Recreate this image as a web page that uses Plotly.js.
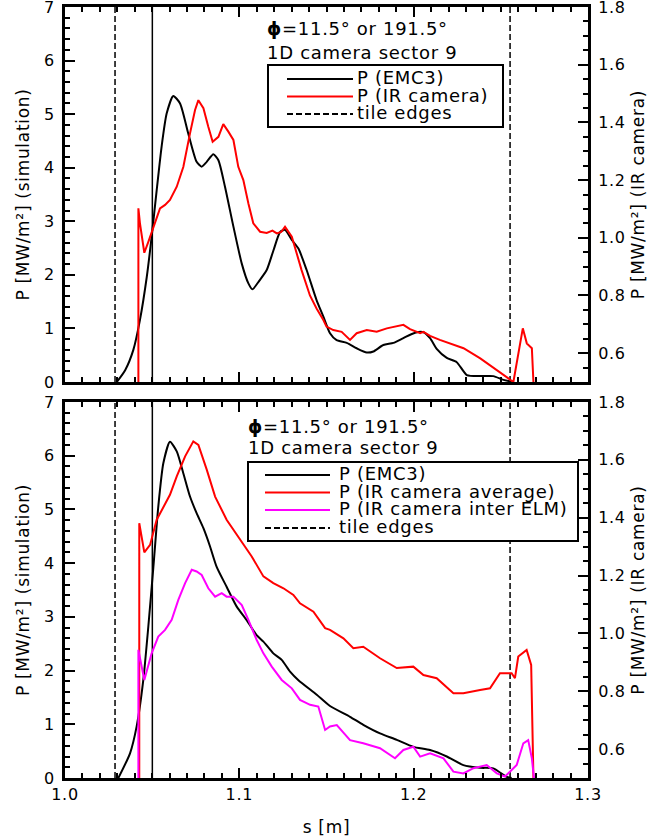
<!DOCTYPE html>
<html><head><meta charset="utf-8">
<script src="https://cdn.plot.ly/plotly-3.0.1.min.js"></script>
<style>
html,body{margin:0;padding:0;background:#fff;}
#wrap{position:relative;width:659px;height:837px;}
#chart{position:absolute;left:0;top:0;width:659px;height:837px;}
#overlay{position:absolute;left:0;top:0;pointer-events:none;}
#state{position:absolute;left:0;top:0;width:1px;height:1px;overflow:hidden;color:#fff;font-size:1px;}
svg text{letter-spacing:0.7px;}
</style></head><body><div id="wrap"><div id="chart"></div>
<svg id="overlay" width="659" height="837" xmlns="http://www.w3.org/2000/svg"></svg><div id="state"></div></div>
<script>
// ---------- data (s in m, P in MW/m^2) ----------
// top panel: EMC3 simulation (left axis)
const sTopEmc = [1.0297,1.0345,1.0392,1.043,1.0469,1.0497,1.0526,1.0554,1.0583,1.0621,1.066,1.0707,1.0755,1.0784,1.0813,1.0851,1.088,1.0918,1.0966,1.1014,1.1052,1.1075,1.111,1.1157,1.1196,1.1234,1.1262,1.1301,1.1339,1.1386,1.1443,1.1482,1.152,1.1558,1.1616,1.1673,1.1731,1.1769,1.1826,1.1884,1.1941,1.2008,1.2056,1.2094,1.2132,1.219,1.2247,1.2305,1.2381,1.2457,1.2515,1.2572];
const pTopEmc = [0,0.22,0.6,1.16,1.96,2.71,3.58,4.39,5.01,5.34,5.2,4.64,4.11,4.02,4.11,4.25,4.14,3.64,2.9,2.21,1.84,1.73,1.87,2.09,2.46,2.8,2.84,2.65,2.49,2.09,1.53,1.22,0.91,0.78,0.73,0.63,0.55,0.57,0.69,0.73,0.82,0.92,0.93,0.82,0.62,0.45,0.37,0.13,0.11,0.11,0.04,0];
// top panel: IR camera (right axis)
const sTopIr = [1.0421,1.0421,1.043,1.0455,1.0478,1.0516,1.0545,1.0574,1.0602,1.0641,1.0679,1.0717,1.0746,1.0765,1.0794,1.0822,1.0847,1.088,1.0908,1.0937,1.0966,1.0994,1.1023,1.1052,1.108,1.1119,1.1157,1.119,1.1215,1.124,1.1262,1.1301,1.1339,1.1357,1.1405,1.1443,1.1482,1.15,1.1539,1.1587,1.1635,1.1673,1.1731,1.1788,1.1846,1.1903,1.1941,1.1979,1.2037,1.2056,1.2094,1.215,1.2228,1.2286,1.2382,1.2477,1.2572,1.2626,1.2649,1.2678,1.2687];
const pTopIr = [0.5,1.102,1.05,0.948,0.986,1.05,1.102,1.114,1.131,1.177,1.246,1.362,1.443,1.477,1.449,1.385,1.333,1.35,1.394,1.368,1.339,1.246,1.2,1.119,1.05,1.021,1.017,1.025,1.015,1.02,1.038,1.004,0.923,0.888,0.8,0.755,0.715,0.692,0.68,0.674,0.646,0.669,0.68,0.674,0.686,0.692,0.698,0.683,0.669,0.674,0.66,0.646,0.63,0.617,0.582,0.542,0.5,0.686,0.634,0.617,0.5];
// bottom panel: EMC3 simulation (left axis)
const sBotEmc = [1.0306,1.0373,1.0411,1.0449,1.0478,1.0507,1.0535,1.0564,1.0602,1.0641,1.0679,1.0717,1.0755,1.0794,1.0832,1.087,1.0927,1.0985,1.1042,1.1099,1.1138,1.1195,1.1243,1.1291,1.1339,1.1444,1.152,1.1635,1.1711,1.1807,1.1903,1.1998,1.2094,1.219,1.2285,1.2381,1.2457,1.2534,1.2562];
const pBotEmc = [0,0.46,0.96,1.82,2.82,3.93,5.05,5.86,6.26,6.08,5.67,5.24,4.93,4.65,4.31,3.93,3.56,3.19,2.94,2.66,2.54,2.32,2.2,1.98,1.82,1.55,1.34,1.14,0.99,0.83,0.71,0.58,0.52,0.4,0.24,0.19,0.18,0.02,0];
// bottom panel: IR camera average (right axis)
const sBotIrAvg = [1.0426,1.0426,1.0455,1.0488,1.0526,1.0574,1.0602,1.0641,1.0689,1.0736,1.0765,1.0813,1.0861,1.0927,1.1004,1.1071,1.1138,1.1195,1.1253,1.131,1.1348,1.1425,1.1492,1.152,1.1597,1.1654,1.1711,1.1807,1.1903,1.1998,1.2056,1.2132,1.2228,1.2285,1.2381,1.2438,1.2495,1.2562,1.2581,1.26,1.2648,1.2674,1.2687];
const pBotIrAvg = [0.5,1.381,1.28,1.306,1.393,1.445,1.479,1.543,1.612,1.664,1.652,1.566,1.473,1.393,1.324,1.266,1.197,1.174,1.156,1.133,1.104,1.075,1.018,1.012,0.983,0.949,0.954,0.914,0.88,0.885,0.856,0.845,0.793,0.793,0.804,0.81,0.862,0.862,0.845,0.92,0.943,0.891,0.5];
// bottom panel: IR camera inter ELM (right axis)
const sBotIrElm = [1.0421,1.0421,1.0455,1.0497,1.0535,1.0574,1.0612,1.065,1.0689,1.0727,1.0755,1.0784,1.0822,1.0861,1.0899,1.0927,1.0966,1.1014,1.1052,1.1099,1.1138,1.1186,1.1243,1.1301,1.1348,1.1406,1.1453,1.1492,1.152,1.1559,1.1635,1.1711,1.1807,1.1893,1.1941,1.1998,1.2037,1.2094,1.2171,1.2228,1.2285,1.2343,1.2419,1.2477,1.2524,1.2562,1.2591,1.2629,1.2657,1.2678,1.269];
const pBotIrElm = [0.5,0.943,0.839,0.931,0.989,1.012,1.047,1.116,1.174,1.22,1.214,1.202,1.156,1.127,1.139,1.127,1.127,1.098,1.047,0.978,0.931,0.885,0.839,0.81,0.77,0.753,0.747,0.666,0.678,0.683,0.631,0.62,0.603,0.568,0.597,0.608,0.574,0.585,0.568,0.522,0.516,0.534,0.545,0.516,0.505,0.528,0.545,0.62,0.631,0.568,0.5];
// vertical markers
const tileEdges = [1.0287, 1.2553];
const solidMark = [1.0501];
// text
const infoSymbol = 'ϕ';
const infoLine1 = '=11.5° or 191.5°';
const infoLine2 = '1D camera sector 9';
const legTopLabels = ['P (EMC3)', 'P (IR camera)', 'tile edges'];
const legTopColors = ['#000000', '#ff0000', '#000000'];
const legTopDash = ['solid', 'solid', 'dash'];
const legBotLabels = ['P (EMC3)', 'P (IR camera average)', 'P (IR camera inter ELM)', 'tile edges'];
const legBotColors = ['#000000', '#ff0000', '#ff00ff', '#000000'];
const legBotDash = ['solid', 'solid', 'solid', 'dash'];
const yTitleLeft = 'P [MW/m²] (simulation)';
const yTitleRight = 'P [MW/m²] (IR camera)';
const xTitle = 's [m]';

// ---------- geometry ----------
const L = 65, R = 588, T = 7, B = 778;
const py = y => (B - y) / (B - T);
const DASH = '6px,3px';

function vlineTrace(xs, yaxis, dash, w) {
  const x = [], y = [];
  xs.forEach((v, i) => { if (i) { x.push(null); y.push(null); } x.push(v, v); y.push(0, 7); });
  return {x, y, xaxis: yaxis === 'y' ? 'x' : 'x2', yaxis, mode: 'lines',
    line: {color: '#000', width: w, dash}, showlegend: false, hoverinfo: 'skip'};
}

const traces = [
  vlineTrace(tileEdges, 'y', DASH, 1.5),
  vlineTrace(solidMark, 'y', 'solid', 1.5),
  {x: sTopEmc, y: pTopEmc, xaxis: 'x', yaxis: 'y', mode: 'lines', line: {color: '#000', width: 2, shape: 'spline', smoothing: 0.6}, showlegend: false},
  {x: sTopIr, y: pTopIr, xaxis: 'x', yaxis: 'y2', mode: 'lines', line: {color: '#ff0000', width: 2}, showlegend: false},
  vlineTrace(tileEdges, 'y3', DASH, 1.5),
  vlineTrace(solidMark, 'y3', 'solid', 1.5),
  {x: sBotEmc, y: pBotEmc, xaxis: 'x2', yaxis: 'y3', mode: 'lines', line: {color: '#000', width: 2, shape: 'spline', smoothing: 0.6}, showlegend: false},
  {x: sBotIrAvg, y: pBotIrAvg, xaxis: 'x2', yaxis: 'y4', mode: 'lines', line: {color: '#ff0000', width: 2}, showlegend: false},
  {x: sBotIrElm, y: pBotIrElm, xaxis: 'x2', yaxis: 'y4', mode: 'lines', line: {color: '#ff00ff', width: 2}, showlegend: false}
];

const base = {showline: true, linewidth: 3, linecolor: '#000', ticks: 'inside', tickcolor: '#000',
  ticklabeloverflow: 'allow', showgrid: false, zeroline: false, tickfont: {size: 16, color: '#000'}, ticklen: 10, tickwidth: 2};
const xBase = Object.assign({}, base, {range: [1.0, 1.3], tick0: 1.0, dtick: 0.1, tickformat: '.1f', mirror: 'ticks',
  minor: {tick0: 1.0, dtick: 0.01, ticks: 'inside', ticklen: 5, tickwidth: 1.5, tickcolor: '#000'}});
const yLeft = Object.assign({}, base, {range: [0, 7], tick0: 0, dtick: 1, ticklabelstandoff: 4,
  minor: {dtick: 0.2, ticks: 'inside', ticklen: 5, tickwidth: 1.5, tickcolor: '#000'},
  title: {text: yTitleLeft, font: {size: 17}, standoff: 10}});
const yRight = Object.assign({}, base, {range: [0.5, 1.8], tick0: 0, dtick: 0.2, tickformat: '.1f', side: 'right', ticklabelstandoff: 4,
  minor: {tick0: 0, dtick: 0.05, ticks: 'inside', ticklen: 5, tickwidth: 1.5, tickcolor: '#000'},
  title: {text: yTitleRight, font: {size: 17}, standoff: 8}});

const layout = {
  width: 659, height: 837,
  margin: {l: L, r: 659 - R, t: T, b: 837 - B},
  font: {family: 'DejaVu Sans', size: 16, color: '#000'},
  showlegend: false,
  xaxis: Object.assign({}, xBase, {anchor: 'y', domain: [0, 1], showticklabels: false}),
  yaxis: Object.assign({}, yLeft, {anchor: 'x', domain: [py(382), 1]}),
  yaxis2: Object.assign({}, yRight, {anchor: 'x', overlaying: 'y'}),
  xaxis2: Object.assign({}, xBase, {anchor: 'y3', domain: [0, 1], showticklabels: true,
    title: {text: xTitle, font: {size: 17}, standoff: 18}}),
  yaxis3: Object.assign({}, yLeft, {anchor: 'x2', domain: [0, py(402)]}),
  yaxis4: Object.assign({}, yRight, {anchor: 'x2', overlaying: 'y3'})
};

Plotly.newPlot('chart', traces, layout, {displayModeBar: false}).then(gd => {
  // redraw the axes once more after the first render
  return Plotly.relayout(gd, {
    'xaxis.ticklen': 10, 'xaxis2.ticklen': 10, 'yaxis.ticklen': 10,
    'yaxis2.ticklen': 10, 'yaxis3.ticklen': 10, 'yaxis4.ticklen': 10
  });
}).then(gd => {
  const n = document.querySelectorAll('#chart .ticks').length;
  document.getElementById('state').textContent = 'ticks ' + n;
});

// ---------- info text and legend boxes (overlay, pixel positions) ----------
const NS = 'http://www.w3.org/2000/svg';
const ov = document.getElementById('overlay');
function el(tag, attrs, text) {
  const e = document.createElementNS(NS, tag);
  Object.keys(attrs).forEach(k => e.setAttribute(k, attrs[k]));
  if (text !== undefined) e.textContent = text;
  ov.appendChild(e);
  return e;
}
const FONT = {'font-family': 'DejaVu Sans', 'font-size': 18, fill: '#000', 'dominant-baseline': 'central'};
function addInfo(x0, y1, y2) {
  const t = el('text', Object.assign({x: x0, y: y1}, FONT));
  const b = document.createElementNS(NS, 'tspan'); b.setAttribute('font-weight', 'bold'); b.textContent = infoSymbol; t.appendChild(b);
  const r = document.createElementNS(NS, 'tspan'); r.textContent = infoLine1; t.appendChild(r);
  el('text', Object.assign({x: x0, y: y2}, FONT), infoLine2);
}
function addLegend(box, lineX, textX, rows, labels, colors, dashes) {
  el('rect', {x: box[0], y: box[2], width: box[1] - box[0], height: box[3] - box[2], fill: '#fff', stroke: '#000', 'stroke-width': 2});
  labels.forEach((lab, i) => {
    const a = {x1: lineX[0], x2: lineX[1], y1: rows[i], y2: rows[i], stroke: colors[i], 'stroke-width': 2};
    if (dashes[i] === 'dash') a['stroke-dasharray'] = '6,3';
    el('line', a);
    el('text', Object.assign({x: textX, y: rows[i] - 1.5}, FONT), lab);
  });
}
addInfo(267, 28, 52);
addLegend([268, 503, 65, 127], [287, 353], 357, [79, 96.5, 114], legTopLabels, legTopColors, legTopDash);
addInfo(248, 425.5, 447.5);
addLegend([248, 578, 462, 541], [265, 330], 339, [475, 492.5, 510, 528], legBotLabels, legBotColors, legBotDash);
</script></body></html>
